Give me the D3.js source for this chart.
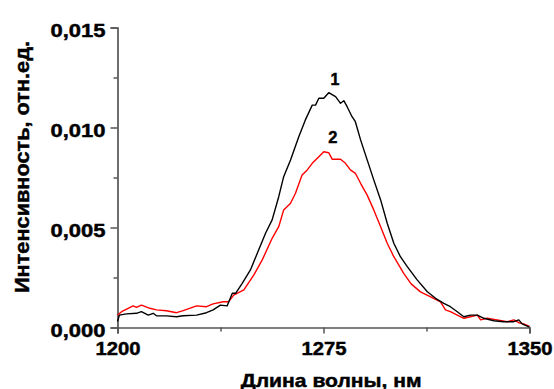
<!DOCTYPE html>
<html>
<head>
<meta charset="utf-8">
<script src="https://cdn.jsdelivr.net/npm/d3@7"></script>
<style>
  html, body { margin: 0; padding: 0; background: #fff; }
  svg { display: block; }
  text { font-family: "Liberation Sans", Arial, sans-serif; font-weight: bold; fill: #000; stroke: #000; stroke-width: 0.45px; }
</style>
</head>
<body>
<svg id="chart" width="554" height="389"></svg>
<script>
// ---- data ----
const wavelength1 = [1200.0,1200.7,1203.3,1206.9,1208.7,1211.2,1213.0,1214.2,1217.8,1221.5,1223.9,1228.8,1232.4,1234.8,1237.5,1239.9,1241.8,1243.0,1245.4,1248.4,1250.9,1253.9,1256.3,1258.7,1260.5,1263.0,1266.0,1268.4,1270.9,1272.1,1273.3,1275.1,1276.9,1279.4,1281.2,1282.4,1283.6,1285.4,1286.6,1288.5,1290.9,1293.3,1295.8,1298.2,1300.6,1303.0,1305.5,1309.1,1312.8,1315.8,1318.8,1321.2,1323.7,1326.1,1328.5,1331.0,1333.4,1337.0,1340.6,1344.3,1346.1,1347.3,1350.0];
const intensity1 = [0.00030,0.00062,0.00068,0.00071,0.00079,0.00062,0.00071,0.00059,0.00058,0.00054,0.00059,0.00062,0.00074,0.00088,0.00112,0.00108,0.00171,0.00171,0.00221,0.00288,0.00371,0.00471,0.00538,0.00654,0.00754,0.00838,0.00954,0.01038,0.01112,0.01112,0.01146,0.01146,0.01174,0.01154,0.01121,0.01134,0.01104,0.01054,0.01029,0.00938,0.00838,0.00738,0.00638,0.00521,0.00421,0.00354,0.00304,0.00238,0.00179,0.00146,0.00121,0.00104,0.00079,0.00054,0.00062,0.00062,0.00046,0.00034,0.00029,0.00029,0.00038,0.00018,0.00002];

const wavelength2 = [1200.0,1201.5,1205.7,1206.9,1208.7,1211.8,1214.2,1217.8,1221.5,1223.9,1228.8,1232.4,1234.8,1238.5,1240.5,1242.3,1246.0,1249.6,1252.7,1256.3,1258.7,1260.5,1263.0,1264.8,1267.2,1269.1,1270.9,1273.3,1275.1,1276.9,1278.2,1281.2,1283.0,1284.8,1286.6,1288.5,1290.9,1293.3,1295.8,1298.2,1300.6,1304.2,1306.9,1310.3,1314.0,1317.6,1319.4,1321.2,1323.7,1326.1,1328.5,1331.0,1332.2,1334.6,1338.2,1341.9,1344.3,1346.1,1347.9,1350.0];
const intensity2 = [0.00062,0.00079,0.00108,0.00101,0.00112,0.00096,0.00088,0.00084,0.00074,0.00084,0.00108,0.00104,0.00118,0.00129,0.00129,0.00162,0.00188,0.00262,0.00338,0.00446,0.00504,0.00588,0.00621,0.00671,0.00762,0.00788,0.00821,0.00854,0.00879,0.00874,0.00841,0.00841,0.00821,0.00788,0.00771,0.00721,0.00662,0.00588,0.00504,0.00421,0.00354,0.00271,0.00218,0.00178,0.00153,0.00128,0.00088,0.00079,0.00062,0.00046,0.00054,0.00062,0.00038,0.00046,0.00038,0.00029,0.00038,0.00024,0.00018,0.00005];

const xTicks = [1200, 1275, 1350];
const xMinorTicks = [1237.5, 1312.5];
const yTicks = [0, 0.005, 0.010, 0.015];
const yMinorTicks = [0.0025, 0.0075, 0.0125];
const seriesLabels = ["1", "2"];
const xTitle = "Длина волны, нм";
const yTitle = "Интенсивность, отн.ед.";

// ---- drawing ----
const svg = d3.select("#chart");
const x = d3.scaleLinear().domain([1200, 1350]).range([117.5, 529.5]);
const y = d3.scaleLinear().domain([0, 0.015]).range([327.5, 27.5]);

const axisColor = "#555";

function stretch(sel, len) {
  sel.each(function () {
    this.setAttribute("textLength", len);
    this.setAttribute("lengthAdjust", "spacingAndGlyphs");
  });
}
function fontize(sel, size) {
  sel.attr("font-size", size)
    .style("font-family", '"Liberation Sans", Arial, sans-serif')
    .style("font-weight", "bold").attr("fill", "#000");
}

// y axis
const yAxisG = svg.append("g").attr("transform", `translate(${x.range()[0]},0)`)
  .call(d3.axisLeft(y).tickValues(yTicks).tickSize(7).tickPadding(5)
    .tickFormat(d => d3.format(".3f")(d).replace(".", ",")));
yAxisG.select(".domain").attr("stroke", axisColor).attr("stroke-width", 1.7);
yAxisG.selectAll(".tick line").attr("stroke", axisColor).attr("stroke-width", 1.5);
fontize(yAxisG.selectAll(".tick text").attr("dy", "0.5em"), 18);
stretch(yAxisG.selectAll(".tick text"), 55);

const yMinorG = svg.append("g").attr("transform", `translate(${x.range()[0]},0)`)
  .call(d3.axisLeft(y).tickValues(yMinorTicks).tickSize(4).tickFormat(""));
yMinorG.select(".domain").remove();
yMinorG.selectAll(".tick line").attr("stroke", axisColor).attr("stroke-width", 1.5);

// x axis
const xAxisG = svg.append("g").attr("transform", `translate(0,${y.range()[0]})`)
  .call(d3.axisBottom(x).tickValues(xTicks).tickSize(6).tickPadding(9).tickFormat(d3.format("d")));
xAxisG.select(".domain").attr("stroke", axisColor).attr("stroke-width", 1.7);
xAxisG.selectAll(".tick line").attr("stroke", axisColor).attr("stroke-width", 1.5);
fontize(xAxisG.selectAll(".tick text"), 17.5);
stretch(xAxisG.selectAll(".tick text"), 45);

const xMinorG = svg.append("g").attr("transform", `translate(0,${y.range()[0]})`)
  .call(d3.axisBottom(x).tickValues(xMinorTicks).tickSize(4).tickFormat(""));
xMinorG.select(".domain").remove();
xMinorG.selectAll(".tick line").attr("stroke", axisColor).attr("stroke-width", 1.5);

// curves
const line = d3.line().x(d => x(d[0])).y(d => y(d[1]));
const s1 = wavelength1.map((w, i) => [w, intensity1[i]]);
const s2 = wavelength2.map((w, i) => [w, intensity2[i]]);

svg.append("path").datum(s2).attr("d", line)
  .attr("fill", "none").attr("stroke", "#ff0000").attr("stroke-width", 1.4).attr("stroke-linejoin", "round");
svg.append("path").datum(s1).attr("d", line)
  .attr("fill", "none").attr("stroke", "#000").attr("stroke-width", 1.4).attr("stroke-linejoin", "round");

// series labels (positioned near peaks)
svg.append("text").attr("x", x(1279.2)).attr("y", y(0.01174) - 7.5)
  .attr("text-anchor", "middle").attr("font-size", 16).text(seriesLabels[0]);
svg.append("text").attr("x", x(1278.4)).attr("y", y(0.00879) - 8.5)
  .attr("text-anchor", "middle").attr("font-size", 16.5).text(seriesLabels[1]);

// axis titles
const xt = svg.append("text").attr("x", 331.2).attr("y", 386.5)
  .attr("text-anchor", "middle").attr("font-size", 18.5).text(xTitle);
stretch(xt, 181);

const yt = svg.append("text").attr("transform", "translate(28.5,167) rotate(-90)")
  .attr("text-anchor", "middle").attr("font-size", 20).text(yTitle);
stretch(yt, 252);
</script>
</body>
</html>
